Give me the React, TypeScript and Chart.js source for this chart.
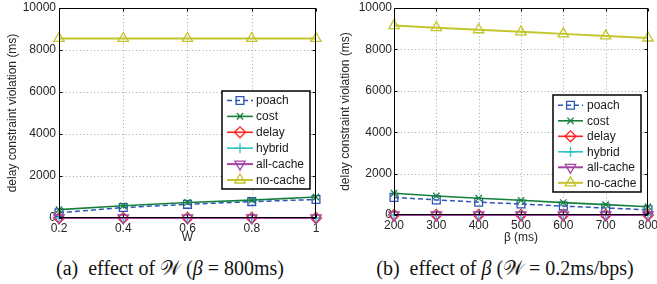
import React, { useEffect, useRef } from "react";
import { Chart, registerables } from "chart.js";
import { drawPoint } from "chart.js/helpers";
Chart.register(...registerables);

// ---------- data ----------
const W_VALUES = [0.2, 0.4, 0.6, 0.8, 1];
const W_TICK_LABELS = ["0.2", "0.4", "0.6", "0.8", "1"];
const BETA_VALUES = [200, 300, 400, 500, 600, 700, 800];
const BETA_TICK_LABELS = ["200", "300", "400", "500", "600", "700", "800"];
const Y_TICKS = [0, 2000, 4000, 6000, 8000, 10000];
const Y_TICK_LABELS = ["0", "2000", "4000", "6000", "8000", "10000"];

const SERIES_NAMES = ["poach", "cost", "delay", "hybrid", "all-cache", "no-cache"];

const W_POACH = [250, 500, 650, 780, 880];
const W_COST = [400, 580, 740, 850, 1000];
const W_DELAY = [0, 0, 0, 0, 0];
const W_HYBRID = [0, 0, 0, 0, 0];
const W_ALLCACHE = [0, 0, 0, 0, 0];
const W_NOCACHE = [8550, 8550, 8550, 8550, 8550];

const B_POACH = [850, 730, 620, 530, 430, 340, 250];
const B_COST = [1050, 920, 810, 710, 600, 500, 400];
const B_DELAY = [0, 0, 0, 0, 0, 0, 0];
const B_HYBRID = [0, 0, 0, 0, 0, 0, 0];
const B_ALLCACHE = [0, 0, 0, 0, 0, 0, 0];
const B_NOCACHE = [9150, 9050, 8950, 8850, 8750, 8650, 8550];

// ---------- styles ----------
const STYLES = [
  { color: "#2d55b8", point: "rect", rotation: 0, radius: 5.5, dash: [5, 3], width: 1.5 },
  { color: "#15803c", point: "crossRot", rotation: 0, radius: 4.5, dash: [], width: 1.6 },
  { color: "#ff2222", point: "rectRot", rotation: 0, radius: 5.5, dash: [], width: 1.6 },
  { color: "#2ec4c4", point: "cross", rotation: 0, radius: 5, dash: [], width: 1.6 },
  { color: "#a444a4", point: "triangle", rotation: 180, radius: 6, dash: [], width: 2 },
  { color: "#c4c42c", point: "triangle", rotation: 0, radius: 6, dash: [], width: 2 },
];

const FONT = '"Liberation Sans", Arial, sans-serif';

function makePlugin(cfg: any) {
  return {
    id: "matlabDecor",
    beforeDatasetsDraw(chart: any) {
      const { ctx, chartArea: a, scales } = chart;
      const x = scales.x, y = scales.y;
      ctx.save();
      ctx.strokeStyle = "#a8a8a8";
      ctx.lineWidth = 1;
      ctx.setLineDash([1, 2.5]);
      ctx.beginPath();
      cfg.xTicks.slice(1, -1).forEach((v: number) => {
        const px = Math.round(x.getPixelForValue(v)) + 0.5;
        ctx.moveTo(px, a.top);
        ctx.lineTo(px, a.bottom);
      });
      Y_TICKS.slice(1, -1).forEach((v) => {
        const py = Math.round(y.getPixelForValue(v)) + 0.5;
        ctx.moveTo(a.left, py);
        ctx.lineTo(a.right, py);
      });
      ctx.stroke();
      ctx.restore();
    },
    afterDatasetsDraw(chart: any) {
      const { ctx, chartArea: a, scales } = chart;
      const x = scales.x, y = scales.y;
      ctx.save();
      // frame
      ctx.strokeStyle = "#000";
      ctx.lineWidth = 1;
      ctx.setLineDash([]);
      const L = Math.round(a.left) + 0.5, R = Math.round(a.right) - 0.5;
      const T = Math.round(a.top) + 0.5, B = Math.round(a.bottom) - 0.5;
      ctx.strokeRect(L, T, R - L, B - T);
      // inward ticks
      ctx.beginPath();
      const tl = 3;
      cfg.xTicks.forEach((v: number) => {
        const px = Math.round(x.getPixelForValue(v)) + 0.5;
        ctx.moveTo(px, B); ctx.lineTo(px, B - tl);
        ctx.moveTo(px, T); ctx.lineTo(px, T + tl);
      });
      Y_TICKS.forEach((v) => {
        const py = Math.round(y.getPixelForValue(v)) + 0.5;
        ctx.moveTo(L, py); ctx.lineTo(L + tl, py);
        ctx.moveTo(R, py); ctx.lineTo(R - tl, py);
      });
      ctx.stroke();

      // axis titles
      ctx.fillStyle = "#262626";
      ctx.font = `12px ${FONT}`;
      ctx.textAlign = "center";
      ctx.textBaseline = "middle";
      ctx.fillText(cfg.xTitle, (a.left + a.right) / 2, cfg.xTitleY);
      ctx.save();
      ctx.translate(cfg.yTitleX, (a.top + a.bottom) / 2);
      ctx.rotate(-Math.PI / 2);
      ctx.fillText("delay constraint violation (ms)", 0, 0);
      ctx.restore();

      // legend
      const lg = cfg.legend;
      ctx.fillStyle = "#fff";
      ctx.fillRect(lg.x, lg.y, lg.w, lg.h);
      ctx.strokeStyle = "#000";
      ctx.lineWidth = 1.5;
      ctx.strokeRect(lg.x, lg.y, lg.w, lg.h);
      SERIES_NAMES.forEach((name, i) => {
        const st = STYLES[i];
        const cy = lg.row0 + i * lg.rowStep;
        ctx.strokeStyle = st.color;
        ctx.lineWidth = st.width;
        ctx.setLineDash(st.dash);
        ctx.beginPath();
        ctx.moveTo(lg.lineX0, cy);
        ctx.lineTo(lg.lineX1, cy);
        ctx.stroke();
        ctx.setLineDash([]);
        ctx.lineWidth = 1.3;
        ctx.fillStyle = "rgba(0,0,0,0)";
        drawPoint(ctx, { pointStyle: st.point, rotation: st.rotation, radius: st.radius, borderWidth: 1.3 } as any, (lg.lineX0 + lg.lineX1) / 2, cy);
        ctx.fillStyle = "#1a1a1a";
        ctx.font = `12px ${FONT}`;
        ctx.textAlign = "left";
        ctx.textBaseline = "middle";
        ctx.fillText(name, lg.textX, cy + 0.5);
      });
      ctx.restore();
    },
  };
}

function buildChart(canvas: HTMLCanvasElement, xs: number[], xLabels: string[], series: number[][], cfg: any) {
  const datasets = series.map((vals, i) => {
    const st = STYLES[i];
    return {
      label: SERIES_NAMES[i],
      data: xs.map((xv, j) => ({ x: xv, y: vals[j] })),
      borderColor: st.color,
      backgroundColor: "rgba(0,0,0,0)",
      borderWidth: st.width,
      borderDash: st.dash,
      pointStyle: st.point,
      pointRotation: st.rotation,
      pointRadius: st.radius,
      pointBorderWidth: 1.3,
      pointBorderColor: st.color,
      pointBackgroundColor: "rgba(0,0,0,0)",
      tension: 0,
      clip: false,
      order: SERIES_NAMES.length - i,
    };
  });
  return new Chart(canvas, {
    type: "line",
    data: { datasets } as any,
    options: {
      animation: false,
      responsive: false,
      devicePixelRatio: 1,
      layout: { padding: { top: 8, left: 0, right: cfg.padRight, bottom: 0 } },
      plugins: { legend: { display: false }, tooltip: { enabled: false } },
      scales: {
        x: {
          type: "linear",
          min: cfg.xTicks[0],
          max: cfg.xTicks[cfg.xTicks.length - 1],
          grid: { display: false, drawTicks: false },
          border: { display: false },
          afterBuildTicks: (s: any) => { s.ticks = cfg.xTicks.map((v: number) => ({ value: v })); },
          afterFit: (s: any) => { s.height = cfg.xAxisHeight; s.paddingLeft = 0; s.paddingRight = 0; },
          ticks: {
            autoSkip: false, maxRotation: 0, minRotation: 0, padding: cfg.xTickPad,
            color: "#262626", font: { family: FONT, size: 12 },
            callback: (_v: any, i: number) => xLabels[i],
          },
        },
        y: {
          type: "linear",
          min: 0,
          max: 10000,
          grid: { display: false, drawTicks: false },
          border: { display: false },
          afterBuildTicks: (s: any) => { s.ticks = Y_TICKS.map((v) => ({ value: v })); },
          afterFit: (s: any) => { s.width = cfg.yAxisWidth; s.paddingTop = 0; s.paddingBottom = 0; },
          ticks: {
            padding: cfg.yTickPad, color: "#262626", font: { family: FONT, size: 12 },
            callback: (_v: any, i: number) => Y_TICK_LABELS[i],
          },
        },
      },
    } as any,
    plugins: [makePlugin(cfg)],
  });
}

export default function App() {
  const ref1 = useRef<HTMLCanvasElement>(null);
  const ref2 = useRef<HTMLCanvasElement>(null);
  useEffect(() => {
    const c1 = buildChart(ref1.current!, W_VALUES, W_TICK_LABELS,
      [W_POACH, W_COST, W_DELAY, W_HYBRID, W_ALLCACHE, W_NOCACHE],
      {
        xTicks: W_VALUES, padRight: 14, yAxisWidth: 59, xAxisHeight: 32, xTickPad: 3, yTickPad: 3,
        xTitle: "W", xTitleY: 237.5, yTitleX: 13,
        legend: { x: 222, y: 91, w: 88, h: 98, lineX0: 227, lineX1: 253, textX: 256, row0: 100.5, rowStep: 15.9 },
      });
    const c2 = buildChart(ref2.current!, BETA_VALUES, BETA_TICK_LABELS,
      [B_POACH, B_COST, B_DELAY, B_HYBRID, B_ALLCACHE, B_NOCACHE],
      {
        xTicks: BETA_VALUES, padRight: 9, yAxisWidth: 64, xAxisHeight: 35, xTickPad: 3, yTickPad: 2,
        xTitle: "β (ms)", xTitleY: 237.5, yTitleX: 16,
        legend: { x: 223, y: 95, w: 88, h: 97, lineX0: 228, lineX1: 253, textX: 257, row0: 105.3, rowStep: 15.5 },
      });
    return () => { c1.destroy(); c2.destroy(); };
  }, []);
  const cap: React.CSSProperties = {
    position: "absolute", top: 257, width: 360, textAlign: "center",
    fontFamily: '"Liberation Serif", "Times New Roman", serif', fontSize: 20, lineHeight: "22px",
    color: "#111", whiteSpace: "pre",
  };
  return (
    <div style={{ position: "absolute", left: 0, top: 0, width: 657, height: 284, background: "#fff", overflow: "hidden" }}>
      <canvas ref={ref1} width={330} height={250} style={{ position: "absolute", left: 0, top: 0 }} />
      <canvas ref={ref2} width={327} height={250} style={{ position: "absolute", left: 330, top: 0 }} />
      <div style={{ ...cap, left: 170 - 180 }}>{"(a)  effect of 𝒲 ("}<i>β</i>{" = 800ms)"}</div>
      <div style={{ ...cap, left: 505 - 180 }}>{"(b)  effect of "}<i>β</i>{" (𝒲 = 0.2ms/bps)"}</div>
    </div>
  );
}
